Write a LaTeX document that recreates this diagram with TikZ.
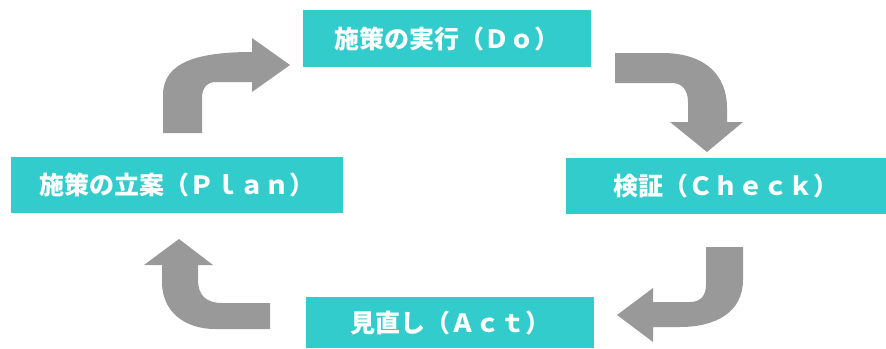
\documentclass[tikz,border=0pt]{standalone}
\usepackage{fontspec}
\setmainfont{Noto Sans CJK JP}
\usepackage{tikz}
\usetikzlibrary{positioning}

\definecolor{stageteal}{RGB}{51,204,204}
\definecolor{arrowgray}{RGB}{153,153,153}

\begin{document}
\begin{tikzpicture}[x=1pt, y=-1pt,
		stage/.style={draw=none, fill=stageteal, rectangle, inner sep=0pt, text=white, font=\fontsize{25}{29}\selectfont\bfseries},
		bentarrow/.style={fill=arrowgray, draw=none}]
				\useasboundingbox (0,0) rectangle (886,348);
				
				% PDCA stages
				\node[stage, minimum width=288pt, minimum height=57pt] (do) at (447,38.5) {施策の実行（Ｄｏ）};
				\node[stage, minimum width=332pt, minimum height=56pt] (plan) at (177,185) {施策の立案（Ｐｌａｎ）};
				\node[stage, minimum width=320pt, minimum height=56pt] (check) at (726,186) {検証（Ｃｈｅｃｋ）};
				\node[stage, minimum width=288pt, minimum height=51pt] (act) at (450,322.5) {見直し（Ａｃｔ）};
				
				% Plan -> Do
				\fill[bentarrow] (163,133) -- (163,95) .. controls (163,62) and (198,52) .. (252,52) -- (252,38) -- (290,65)
					-- (252,92) -- (252,82) -- (216,82) .. controls (207,82) and (202,88) .. (202,98) -- (202,133) -- cycle;
				
				% Do -> Check
				\fill[bentarrow] (615,53) -- (662,53) .. controls (705,53) and (727,75) .. (727,108) -- (727,122) -- (743,122)
					-- (707,152) -- (670,122) -- (688,122) -- (688,102) .. controls (688,90) and (682,83) .. (672,83) -- (615,83) -- cycle;
				
				% Check -> Act
				\fill[bentarrow] (706,247) -- (743,247) -- (743,280) .. controls (743,312) and (716,327) .. (680,327) -- (653,327)
					-- (653,342) -- (617,315) -- (653,288) -- (653,302) -- (690,302) .. controls (700,302) and (706,296) .. (706,285) -- cycle;
				
				% Act -> Plan
				\fill[bentarrow] (270,303) -- (222,303) .. controls (206,303) and (198,295) .. (198,280) -- (198,265) -- (213,265)
					-- (179,239) -- (144,265) -- (162,265) -- (162,282) .. controls (162,312) and (185,329) .. (215,329) -- (270,329) -- cycle;
			\end{tikzpicture}
\end{document}
